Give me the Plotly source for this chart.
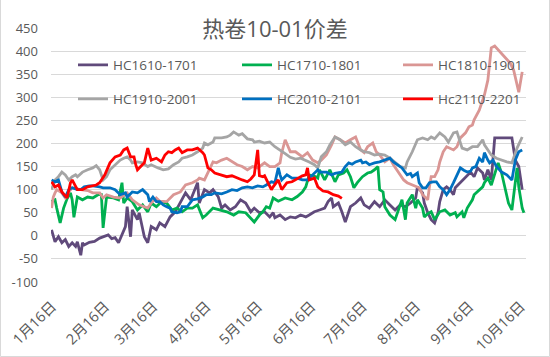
import plotly.graph_objects as go
import pandas as pd

BASE_DATE = "2021-01-16"   # day offsets below are counted from this date

tick_dates = ["2021-01-16", "2021-02-16", "2021-03-16", "2021-04-16", "2021-05-16",
              "2021-06-16", "2021-07-16", "2021-08-16", "2021-09-16", "2021-10-16"]
tick_labels = ["1月16日", "2月16日", "3月16日", "4月16日", "5月16日",
               "6月16日", "7月16日", "8月16日", "9月16日", "10月16日"]
y_ticks = [-100, -50, 0, 50, 100, 150, 200, 250, 300, 350, 400, 450]

# HC1610-1701
hc1610_days = [-2, 0, 2, 4, 6, 8, 10, 12, 13, 15, 16, 17, 20, 23, 26, 29, 31, 33, 35, 37,
               41, 42, 44, 45, 48, 49, 52, 54, 56, 59, 61, 64, 67, 70, 73, 76, 79, 83, 84, 87,
               90, 92, 95, 97, 99, 102, 105, 108, 111, 114, 116, 119, 122, 125, 127, 128, 131,
               134, 137, 140, 143, 146, 148, 151, 154, 157, 159, 161, 162, 165, 167, 169, 172,
               175, 178, 180, 183, 186, 189, 192, 195, 198, 201, 204, 207, 210, 211, 214, 215,
               217, 219, 221, 223, 224, 226, 228, 230, 232, 233, 236, 239, 242, 244, 246, 249,
               250, 252, 254, 256, 266, 268, 270, 272]
hc1610_vals = [13, -13, -2, -15, -8, -23, -15, -23, -13, -42, -15, -20, -14, -12, -5, 0, 2, -6, -4, -15,
               20, 63, -2, 56, 35, 50, -2, -15, 20, 13, 28, 20, 41, 52, 71, 93, 78, 115, 71, 100,
               93, 100, 85, 60, 67, 56, 63, 78, 71, 52, 60, 50, 52, 41, 50, 39, 45,
               35, 41, 39, 45, 41, 45, 52, 56, 60, 74, 82, 63, 71, 52, 30, 63,
               71, 82, 67, 60, 74, 63, 78, 67, 56, 67, 63, 71, 82, 106, 93, 71,
               50, 35, 28, 50, 74, 100, 106, 100, 89, 104, 115, 128, 138, 128, 147, 136,
               121, 143, 121, 212, 212, 164, 150, 100]

# HC1710-1801
hc1710_days = [-2, 0, 1, 3, 5, 7, 9, 10, 11, 13, 16, 19, 22, 25, 27, 28, 30, 34, 37, 39, 40,
               42, 45, 48, 51, 54, 56, 59, 62, 65, 68, 71, 74, 77, 80, 83, 86, 88, 92, 96, 100,
               104, 107, 111, 114, 116, 119, 121, 123, 125, 127, 130, 134, 138, 141, 144, 146,
               147, 148, 152, 153, 154, 157, 160, 163, 165, 168, 170, 172, 174, 176, 179, 182,
               184, 186, 188, 189, 191, 192, 195, 198, 202, 204, 205, 208, 210, 211, 214, 215,
               217, 219, 221, 224, 227, 230, 233, 234, 237, 238, 240, 243, 244, 246, 249, 250,
               252, 254, 256, 258, 260, 262, 264, 266, 268, 269, 270, 272, 273]
hc1710_vals = [74, 78, 60, 28, 60, 80, 93, 78, 40, 84, 78, 84, 82, 89, 89, 17, 84, 82, 78, 115, 71,
               82, 74, 56, 67, 52, 71, 63, 74, 71, 56, 60, 52, 60, 60, 67, 39, 45, 60, 56, 52,
               45, 52, 50, 39, 30, 45, 52, 63, 60, 82, 75, 82, 78, 85, 95, 106,
               117, 132, 128, 125, 143, 121, 143, 117, 132, 136, 143, 128, 104, 115, 128, 136,
               138, 143, 150, 100, 95, 63, 45, 35, 78, 35, 71, 89, 60, 78, 60, 41,
               48, 52, 35, 52, 56, 45, 50, 41, 52, 39, 60, 78, 89, 95, 106, 115,
               125, 110, 136, 158, 136, 106, 71, 56, 121, 147, 106, 60, 50]

# HC1810-1901
hc1810_days = [-2, -1, 0, 1, 4, 6, 8, 10, 15, 19, 22, 26, 28, 30, 34, 38, 42, 45, 49, 54, 56,
               59, 61, 65, 69, 73, 76, 80, 83, 84, 87, 89, 92, 94, 97, 100, 103, 106, 109, 112,
               115, 118, 122, 125, 128, 131, 132, 134, 137, 140, 144, 147, 150, 153, 155, 158,
               161, 163, 166, 169, 172, 175, 178, 180, 182, 185, 187, 189, 192, 195, 197, 199,
               201, 203, 205, 210, 212, 214, 217, 218, 219, 221, 223, 224, 226, 228, 232, 234,
               236, 239, 241, 243, 244, 247, 250, 252, 254, 256, 259, 262, 265, 267, 268, 270,
               271, 272]
hc1810_vals = [60, 84, 93, 100, 93, 82, 95, 104, 100, 98, 93, 93, 82, 89, 84, 82, 93, 78, 67, 60, 71,
               82, 75, 74, 89, 95, 110, 115, 121, 125, 121, 138, 160, 158, 164, 168, 160, 154, 150, 143,
               150, 147, 158, 150, 150, 158, 180, 208, 182, 182, 171, 180, 164, 158, 164, 175,
               197, 214, 208, 201, 208, 214, 186, 180, 193, 201, 182, 175, 160, 168, 154, 143,
               132, 121, 115, 106, 104, 89, 78, 106, 128, 128, 143, 160, 182, 193, 186, 193,
               212, 223, 236, 240, 251, 272, 305, 337, 407, 411, 398, 385, 374, 359, 342, 311,
               333, 355]

# HC1910-2001
hc1910_days = [-2, 0, 2, 4, 6, 8, 10, 12, 13, 16, 19, 22, 24, 26, 28, 30, 32, 35, 38, 40, 42,
               44, 45, 48, 51, 54, 56, 60, 63, 66, 69, 72, 74, 77, 80, 83, 86, 87, 89, 92, 93,
               97, 100, 102, 104, 107, 109, 112, 115, 116, 119, 122, 125, 128, 131, 134, 137,
               140, 143, 146, 148, 151, 153, 155, 158, 160, 163, 166, 169, 172, 175, 178, 180,
               183, 186, 189, 192, 195, 198, 201, 204, 205, 208, 210, 211, 214, 217, 219, 221,
               224, 227, 229, 232, 234, 236, 237, 240, 243, 246, 249, 250, 252, 254, 257, 260,
               263, 266, 269, 272]
hc1910_vals = [100, 121, 128, 138, 132, 121, 128, 132, 128, 138, 143, 147, 152, 143, 121, 128, 143, 154, 164, 168, 171,
               164, 158, 160, 158, 150, 154, 147, 143, 145, 154, 160, 168, 171, 175, 182, 190, 201, 197, 203, 212,
               212, 214, 218, 225, 218, 221, 210, 208, 203, 205, 201, 203, 193, 186, 178, 170,
               166, 168, 164, 160, 154, 147, 171, 182, 197, 214, 208, 197, 203, 193, 186, 182,
               180, 175, 177, 175, 168, 160, 150, 147, 160, 182, 197, 208, 212, 208, 214, 210,
               223, 214, 203, 223, 225, 203, 190, 186, 193, 193, 208, 197, 186, 175, 168, 164,
               160, 158, 190, 214]

# HC2010-2101
hc2010_days = [-2, 0, 2, 4, 6, 8, 10, 13, 15, 17, 20, 22, 26, 28, 32, 35, 38, 41, 42, 45, 48,
               51, 54, 55, 57, 59, 61, 63, 65, 67, 68, 71, 73, 74, 77, 79, 80, 83, 86, 88, 91,
               93, 97, 100, 103, 106, 109, 112, 115, 118, 121, 123, 126, 128, 130, 131, 132, 135,
               138, 141, 144, 147, 150, 153, 154, 155, 158, 161, 163, 167, 169, 171, 173, 175,
               178, 179, 181, 183, 186, 189, 192, 195, 197, 199, 202, 205, 207, 208, 211, 212,
               214, 216, 218, 220, 222, 224, 226, 228, 230, 232, 234, 236, 238, 240, 242, 243,
               245, 247, 249, 250, 252, 253, 255, 257, 260, 263, 266, 268, 270, 272]
hc2010_vals = [121, 117, 121, 95, 84, 100, 104, 100, 100, 106, 108, 108, 106, 104, 104, 100, 89, 93, 84, 95, 93,
               100, 89, 74, 84, 74, 74, 67, 63, 60, 52, 50, 52, 63, 63, 74, 78, 80, 84, 89, 89,
               93, 91, 95, 100, 98, 104, 106, 104, 108, 106, 110, 117, 115, 147, 132, 121, 132,
               125, 125, 121, 121, 132, 143, 138, 138, 138, 132, 135, 138, 150, 158, 155, 160,
               164, 158, 160, 154, 158, 160, 164, 168, 160, 155, 147, 132, 135, 128, 136, 115,
               104, 104, 115, 117, 117, 106, 100, 89, 100, 115, 132, 147, 142, 138, 140, 147,
               150, 168, 160, 180, 164, 158, 164, 150, 138, 132, 121, 164, 182, 186]

# Hc2110-2201
hc2110_days = [-2, 0, 2, 4, 7, 9, 10, 13, 16, 19, 24, 26, 29, 32, 35, 38, 40, 42, 44, 46, 47,
               48, 52, 54, 56, 59, 62, 64, 66, 68, 70, 72, 74, 77, 80, 83, 86, 87, 89, 91, 93,
               97, 100, 103, 107, 109, 112, 114, 116, 118, 119, 121, 122, 125, 126, 127, 130,
               132, 135, 138, 141, 144, 146, 147, 148, 151, 153, 156, 159, 162, 165, 167]
hc2110_vals = [117, 106, 110, 95, 82, 115, 121, 100, 100, 106, 110, 115, 132, 158, 171, 175, 186, 190, 171, 171, 154,
               143, 158, 190, 164, 168, 160, 175, 182, 180, 186, 190, 180, 186, 186, 190, 180, 175, 147, 143, 136,
               132, 128, 130, 125, 121, 117, 123, 132, 186, 130, 128, 130, 110, 100, 106, 121,
               100, 115, 117, 123, 130, 132, 147, 121, 125, 106, 97, 95, 89, 86, 81]

series = [
    ("HC1610-1701", hc1610_days, hc1610_vals, "#604A7B"),
    ("HC1710-1801", hc1710_days, hc1710_vals, "#00B050"),
    ("HC1810-1901", hc1810_days, hc1810_vals, "#DA9694"),
    ("HC1910-2001", hc1910_days, hc1910_vals, "#A5A5A5"),
    ("HC2010-2101", hc2010_days, hc2010_vals, "#0070C0"),
    ("Hc2110-2201", hc2110_days, hc2110_vals, "#FF0000"),
]

W, H = 550, 357
ML, MR, MT, MB = 51, 24, 28, 75
pw, ph = W - ML - MR, H - MT - MB

# legend slots: 3 columns x 2 rows (left edge px of each column, centre px of each row)
legend_cols = [73, 237, 398]
legend_rows = [65, 99]

base = pd.Timestamp(BASE_DATE)
fig = go.Figure()
legend_layout = {}
for i, (name, days, vals, color) in enumerate(series):
    key = "legend" if i == 0 else f"legend{i + 1}"
    dates = base + pd.to_timedelta(days, unit="D")
    fig.add_trace(go.Scatter(x=dates, y=vals, mode="lines", name=name,
                             line=dict(color=color, width=2.8), legend=key))
    col, row = i % 3, i // 3
    legend_layout[key] = dict(
        orientation="h", x=(legend_cols[col] - ML) / pw, xanchor="left",
        y=1 - (legend_rows[row] - MT) / ph, yanchor="middle",
        bgcolor="rgba(0,0,0,0)", font=dict(size=13.5, color="#595959"))

fig.update_layout(
    width=W, height=H,
    margin=dict(l=ML, r=MR, t=MT, b=MB),
    paper_bgcolor="white", plot_bgcolor="white",
    font=dict(family="Open Sans, Noto Sans CJK SC", size=13, color="#595959"),
    title=dict(text="热卷10-01价差", x=0.5, xanchor="center", y=1 - 29 / H, yanchor="middle",
               yref="container", font=dict(size=22, color="#595959",
                                           family="Open Sans, Noto Sans CJK SC")),
    showlegend=True,
    xaxis=dict(type="date", range=["2021-01-13 16:00", "2021-10-17 05:00"],
               tickvals=tick_dates, ticktext=tick_labels, tickangle=-45,
               showgrid=False, zeroline=False, showline=False, ticks="",
               ticklabelstandoff=12, ticklabelshift=-3, automargin=False,
               tickfont=dict(size=14.5, color="#595959")),
    yaxis=dict(range=[-100, 450], tickvals=y_ticks, ticktext=[str(v) for v in y_ticks],
               showgrid=True, gridcolor="#D9D9D9", gridwidth=1, zeroline=False,
               showline=False, ticks="", ticklabelstandoff=12, automargin=False,
               tickfont=dict(size=13, color="#595959")),
    shapes=[dict(type="rect", xref="paper", yref="paper",
                 x0=-(ML - 0.5) / pw, x1=(W - ML - 0.5) / pw,
                 y0=-(MB - 0.5) / ph, y1=(H - MT - 0.5) / ph,
                 line=dict(color="#D9D9D9", width=1), fillcolor="rgba(0,0,0,0)", layer="below")],
    **legend_layout,
)

fig.write_html("out.html", config={"displayModeBar": False},
               post_script="document.body.style.margin='0';")
